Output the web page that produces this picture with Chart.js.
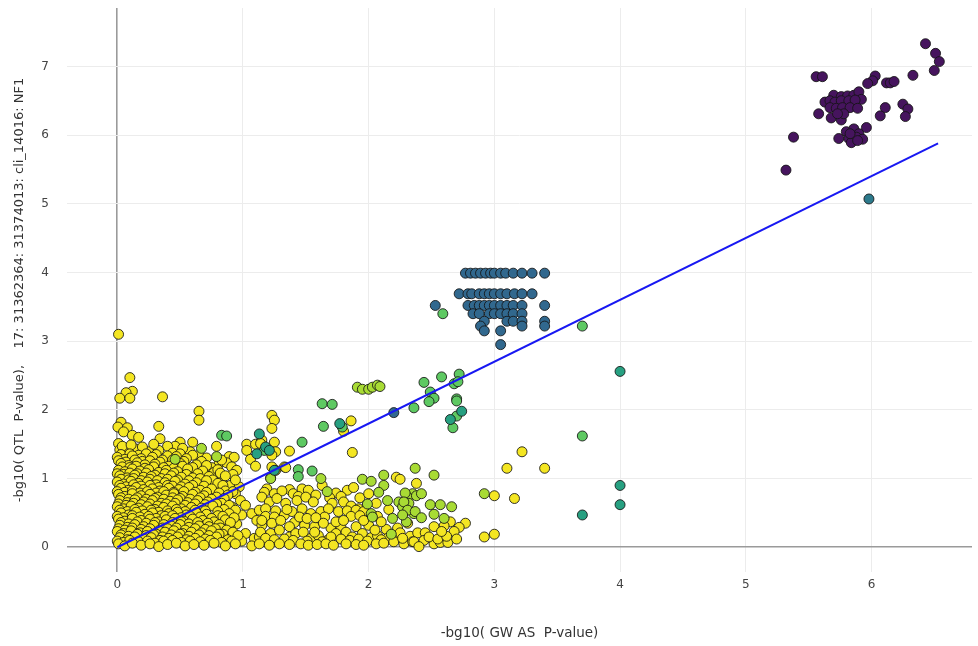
<!DOCTYPE html>
<html>
<head>
<meta charset="utf-8">
<script src="https://cdn.jsdelivr.net/npm/chart.js@4.4.1/dist/chart.umd.min.js"></script>
<style>
  html, body { margin: 0; padding: 0; background: #fff; }
  #wrap { width: 978px; height: 646px; position: relative; }
</style>
</head>
<body>
<div id="wrap"><canvas id="qtlChart"></canvas></div>
<script>
// points, grouped by colour, [gwas, qtl]
const purplePts = [
  [6.43,7.33],[6.51,7.19],[6.54,7.07],[6.50,6.94],[6.33,6.87],[5.56,6.85],[5.61,6.85],[6.03,6.86],[6.01,6.79],[5.97,6.75],
  [6.12,6.76],[6.15,6.76],[6.18,6.78],[5.70,6.58],[5.76,6.56],[5.81,6.57],[5.86,6.58],[5.90,6.63],[5.92,6.52],[5.63,6.48],
  [5.67,6.50],[5.71,6.48],[5.76,6.50],[5.82,6.50],[5.87,6.51],[5.67,6.40],[5.72,6.39],[5.77,6.40],[5.83,6.40],[5.89,6.39],
  [5.58,6.31],[5.68,6.25],[5.76,6.22],[5.78,6.31],[5.73,6.31],[6.11,6.40],[6.07,6.28],[6.25,6.45],[6.29,6.38],[6.27,6.27],
  [5.96,6.11],[5.80,6.05],[5.86,6.09],[5.90,6.02],[5.74,5.95],[5.82,5.95],[5.88,5.97],[5.93,5.94],[5.84,5.89],[5.89,5.92],
  [5.83,6.02],[5.38,5.97],[5.32,5.49]
];
const bluePts = [
  [2.77,3.99],[2.81,3.99],[2.85,3.99],[2.89,3.99],[2.93,3.99],[2.97,3.99],[3.00,3.99],[3.05,3.99],[3.09,3.99],[3.15,3.99],[3.22,3.99],[3.30,3.99],[3.40,3.99],
  [2.72,3.69],[2.79,3.69],[2.82,3.69],[2.88,3.69],[2.92,3.69],[2.96,3.69],[3.00,3.69],[3.05,3.69],[3.10,3.69],[3.16,3.69],[3.22,3.69],[3.30,3.69],
  [2.53,3.52],[2.79,3.52],[2.84,3.52],[2.88,3.52],[2.92,3.52],[2.96,3.52],[3.00,3.52],[3.05,3.52],[3.10,3.52],[3.15,3.52],[3.22,3.52],[3.40,3.52],
  [2.83,3.40],[2.88,3.40],[2.96,3.40],[3.00,3.40],[3.05,3.40],[3.10,3.40],[3.15,3.40],[3.22,3.40],
  [2.92,3.29],[3.10,3.29],[3.15,3.29],[3.22,3.29],[3.40,3.29],
  [2.89,3.22],[3.22,3.22],[3.40,3.22],[2.92,3.15],[3.05,3.15],[3.05,2.95],[2.20,1.96]
];
const tealPts = [[5.98,5.07]];
const tealGreenPts = [
  [4.00,2.56],[4.00,0.90],[4.00,0.62],[3.70,0.47],[1.13,1.65],[1.11,1.36],[1.18,1.46],[1.21,1.41],[1.25,1.12],
  [2.74,1.98],[2.65,1.86],[1.77,1.80]
];
const greenPts = [
  [3.70,3.22],[3.70,1.62],[2.59,3.40],[2.44,2.40],[2.58,2.48],[2.72,2.52],[2.68,2.38],[2.71,2.41],[2.49,2.26],[2.52,2.17],
  [2.48,2.12],[2.36,2.03],[2.70,2.16],[2.70,2.13],[2.70,1.91],[2.67,1.74],[1.63,2.09],[1.71,2.08],[1.64,1.76],[1.79,1.75],
  [1.47,1.53],[1.44,1.13],[1.55,1.11],[1.44,1.03],[0.83,1.63],[0.87,1.62],[1.17,1.41]
];
const limePts = [
  [1.91,2.33],[1.95,2.30],[2.00,2.30],[2.03,2.33],[2.07,2.36],[2.09,2.34],[0.67,1.44],[0.46,1.28],[0.79,1.32],
  [1.22,1.00],[1.62,1.00],[1.67,0.81],[1.95,0.99],[2.02,0.96],[2.12,1.05],[2.12,0.90],[2.35,0.78],[2.31,0.73],
  [1.99,0.63],[2.15,0.68],[2.24,0.66],[2.32,0.64],[2.02,0.49],[2.27,0.59],[2.36,0.49],[2.03,0.44],[2.19,0.42],[2.30,0.37],
  [2.37,1.15],[2.52,1.05],[2.29,0.79],[2.38,0.75],[2.42,0.78],[2.28,0.66],[2.31,0.54],[2.37,0.52],[2.42,0.43],
  [2.49,0.62],[2.57,0.62],[2.52,0.48],[2.66,0.59],[2.60,0.42],[2.92,0.78],[2.08,0.80],[2.27,0.47],[2.18,0.19]
];
const yellowPts = [
  // scattered ones
  [0.01,3.10],[0.10,2.47],[0.12,2.27],[0.07,2.25],[0.02,2.17],[0.10,2.17],[0.36,2.19],[0.65,1.98],[0.65,1.85],[0.03,1.82],
  [0.005,1.75],[0.08,1.74],[0.05,1.68],[0.33,1.76],[0.12,1.63],[0.17,1.60],[0.34,1.58],[0.01,1.51],[0.60,1.53],[0.50,1.53],
  [0.46,1.47],[0.40,1.47],[0.79,1.47],[0.58,1.39],[0.65,1.34],[0.89,1.32],[0.93,1.31],[0.81,1.22],[0.87,1.23],[0.91,1.17],
  [0.95,1.12],[1.03,1.50],[1.10,1.50],[1.03,1.41],[1.06,1.28],[1.10,1.18],[1.15,1.56],[0.61,1.17],[0.61,1.10],[0.70,1.05],
  [0.77,1.05],[0.67,0.88],[0.78,0.88],[0.83,0.98],[0.90,0.90],[0.97,0.88],[0.94,0.78],[0.98,0.68],[0.91,0.59],[1.02,0.61],
  [1.07,0.49],[1.11,0.39],[1.15,0.32],[0.99,0.47],[0.95,0.34],[0.90,0.27],[1.02,0.20],[1.09,0.13],[0.99,0.09],[1.07,0.02],
  [1.13,0.15],[1.23,1.92],[1.25,1.85],[1.23,1.73],[1.14,1.51],[1.25,1.53],[1.26,1.39],[1.23,1.34],[1.37,1.40],[1.33,1.17],
  [1.23,1.17],[1.34,1.16],[1.22,1.01],[1.26,1.12],[1.80,1.69],[1.86,1.84],[1.87,1.38],[2.22,1.02],[2.25,0.99],[2.38,0.93],
  [3.22,1.39],[3.10,1.15],[3.40,1.15],[3.00,0.75],[3.16,0.71],[2.92,0.15],[3.00,0.19],
  // dense block near the origin
  [0.02,1.42],[0.09,1.38],[0.15,1.43],[0.25,1.39],[0.33,1.41],[0.44,1.37],[0.52,1.44],
  [0.04,1.47],[0.11,1.49],[0.20,1.46],[0.29,1.50],
  [0.03,1.35],[0.10,1.36],[0.17,1.34],[0.23,1.36],[0.31,1.35],[0.40,1.33],[0.50,1.36],[0.60,1.34],
  [0.00,1.31],[0.06,1.28],[0.12,1.33],[0.19,1.29],[0.28,1.31],[0.36,1.27],[0.47,1.32],[0.55,1.29],[0.71,1.30],
  [0.01,1.26],[0.07,1.24],[0.14,1.27],[0.20,1.25],[0.26,1.26],[0.34,1.24],[0.44,1.27],[0.53,1.25],[0.67,1.25],[0.83,1.27],
  [0.03,1.22],[0.09,1.19],[0.16,1.23],[0.22,1.20],[0.30,1.21],[0.41,1.18],[0.50,1.22],[0.63,1.20],[0.75,1.16],
  [0.04,1.17],[0.10,1.16],[0.15,1.18],[0.22,1.15],[0.29,1.17],[0.37,1.16],[0.45,1.15],[0.52,1.18],[0.60,1.16],[0.71,1.19],[0.77,1.09],
  [0.01,1.12],[0.06,1.10],[0.12,1.14],[0.18,1.11],[0.25,1.13],[0.33,1.09],[0.39,1.12],[0.48,1.10],[0.56,1.14],[0.68,1.11],[0.80,1.13],
  [0.00,1.07],[0.05,1.06],[0.10,1.08],[0.16,1.07],[0.23,1.08],[0.30,1.05],[0.38,1.07],[0.45,1.08],[0.55,1.06],[0.64,1.07],[0.82,1.08],[0.92,1.06],
  [0.02,1.04],[0.08,1.01],[0.14,1.05],[0.21,1.02],[0.27,1.03],[0.35,1.00],[0.43,1.04],[0.51,1.02],[0.60,1.01],[0.73,1.03],[0.86,1.04],
  [0.03,0.99],[0.09,0.98],[0.13,1.00],[0.19,0.97],[0.26,0.99],[0.32,0.97],[0.40,0.99],[0.48,0.98],[0.57,0.97],[0.66,1.00],[0.76,0.98],[0.94,0.98],
  [0.00,0.95],[0.05,0.92],[0.11,0.96],[0.17,0.93],[0.24,0.95],[0.31,0.91],[0.38,0.94],[0.46,0.96],[0.54,0.92],[0.63,0.94],[0.71,0.97],[0.80,0.93],
  [0.02,0.90],[0.07,0.88],[0.13,0.91],[0.19,0.89],[0.26,0.90],[0.33,0.87],[0.40,0.90],[0.44,0.89],[0.51,0.88],[0.60,0.90],[0.69,0.89],[0.84,0.90],
  [0.03,0.86],[0.09,0.83],[0.15,0.87],[0.21,0.84],[0.28,0.85],[0.34,0.82],[0.41,0.86],[0.49,0.84],[0.57,0.87],[0.66,0.83],[0.75,0.85],[0.86,0.82],
  [0.00,0.81],[0.06,0.80],[0.12,0.82],[0.18,0.79],[0.24,0.81],[0.31,0.79],[0.37,0.81],[0.45,0.80],[0.53,0.81],[0.62,0.80],[0.71,0.80],[0.81,0.79],[0.92,0.81],
  [0.01,0.77],[0.06,0.74],[0.12,0.78],[0.19,0.75],[0.26,0.77],[0.32,0.73],[0.39,0.76],[0.45,0.78],[0.52,0.74],[0.60,0.77],[0.69,0.75],[0.79,0.73],[0.88,0.76],
  [0.03,0.72],[0.09,0.70],[0.16,0.72],[0.23,0.70],[0.30,0.71],[0.37,0.70],[0.44,0.72],[0.50,0.71],[0.58,0.70],[0.66,0.72],[0.75,0.70],[0.85,0.71],
  [0.02,0.68],[0.08,0.65],[0.14,0.69],[0.21,0.66],[0.28,0.68],[0.35,0.64],[0.42,0.67],[0.48,0.69],[0.56,0.65],[0.64,0.68],[0.72,0.66],[0.83,0.64],
  [0.01,0.63],[0.07,0.61],[0.13,0.64],[0.19,0.62],[0.26,0.63],[0.32,0.60],[0.39,0.63],[0.46,0.64],[0.54,0.61],[0.62,0.63],[0.70,0.62],[0.79,0.63],[0.89,0.61],
  [0.00,0.59],[0.05,0.56],[0.11,0.60],[0.17,0.57],[0.24,0.59],[0.30,0.55],[0.37,0.58],[0.44,0.60],[0.51,0.56],[0.59,0.58],[0.67,0.57],[0.76,0.60],[0.85,0.55],
  [0.02,0.54],[0.08,0.52],[0.14,0.55],[0.20,0.53],[0.27,0.54],[0.33,0.51],[0.40,0.53],[0.47,0.55],[0.54,0.52],[0.62,0.54],[0.70,0.53],[0.80,0.52],[0.94,0.54],
  [0.03,0.50],[0.09,0.47],[0.15,0.51],[0.22,0.48],[0.28,0.50],[0.35,0.46],[0.41,0.49],[0.48,0.51],[0.55,0.47],[0.63,0.50],[0.71,0.48],[0.80,0.46],[0.89,0.49],
  [0.00,0.45],[0.05,0.43],[0.12,0.46],[0.18,0.44],[0.25,0.45],[0.31,0.42],[0.38,0.45],[0.44,0.46],[0.51,0.43],[0.58,0.45],[0.66,0.44],[0.75,0.42],[0.84,0.45],[0.93,0.43],
  [0.01,0.41],[0.06,0.38],[0.12,0.42],[0.19,0.39],[0.26,0.41],[0.33,0.37],[0.39,0.40],[0.46,0.42],[0.53,0.38],[0.60,0.41],[0.68,0.39],[0.77,0.37],[0.86,0.40],
  [0.03,0.36],[0.09,0.34],[0.16,0.37],[0.23,0.35],[0.30,0.36],[0.37,0.33],[0.44,0.36],[0.51,0.37],[0.57,0.34],[0.64,0.36],[0.72,0.35],[0.81,0.33],[0.90,0.36],
  [0.02,0.32],[0.08,0.29],[0.14,0.33],[0.21,0.30],[0.29,0.32],[0.36,0.28],[0.43,0.31],[0.50,0.33],[0.57,0.29],[0.65,0.31],[0.73,0.30],[0.82,0.28],
  [0.01,0.27],[0.06,0.25],[0.12,0.28],[0.19,0.26],[0.26,0.27],[0.33,0.24],[0.40,0.27],[0.47,0.28],[0.54,0.25],[0.62,0.27],[0.70,0.26],[0.78,0.27],[0.87,0.25],
  [0.00,0.23],[0.05,0.20],[0.11,0.24],[0.18,0.21],[0.24,0.23],[0.31,0.19],[0.38,0.22],[0.45,0.24],[0.52,0.20],[0.59,0.22],[0.67,0.21],[0.75,0.24],[0.84,0.19],[0.92,0.22],
  [0.03,0.18],[0.09,0.16],[0.16,0.19],[0.23,0.17],[0.29,0.18],[0.36,0.15],[0.43,0.18],[0.50,0.19],[0.57,0.16],[0.65,0.18],[0.73,0.17],[0.81,0.19],[0.96,0.17],
  [0.02,0.14],[0.08,0.11],[0.14,0.15],[0.21,0.12],[0.27,0.14],[0.34,0.10],[0.41,0.13],[0.48,0.15],[0.55,0.11],[0.62,0.13],[0.70,0.12],[0.79,0.15],[0.88,0.11],
  [0.00,0.09],[0.05,0.07],[0.10,0.10],[0.17,0.08],[0.24,0.09],[0.30,0.06],[0.37,0.09],[0.44,0.10],[0.51,0.07],[0.58,0.09],[0.66,0.08],[0.74,0.10],[0.83,0.07],[0.91,0.09],
  [0.01,0.05],[0.06,0.02],[0.12,0.06],[0.19,0.03],[0.26,0.05],[0.33,0.01],[0.40,0.04],[0.47,0.06],[0.54,0.02],[0.61,0.04],[0.69,0.03],[0.77,0.06],[0.86,0.02],[0.94,0.05],
  // band from 1.1 to 2.8
  [1.19,0.85],[1.37,0.84],[1.40,0.78],[1.47,0.85],[1.52,0.83],[1.63,0.90],[1.74,0.79],[1.83,0.83],[1.88,0.87],
  [1.17,0.80],[1.25,0.78],[1.31,0.82],[1.44,0.74],[1.58,0.76],[1.69,0.72],[1.78,0.74],[1.93,0.72],[2.00,0.78],
  [1.15,0.73],[1.21,0.66],[1.27,0.71],[1.34,0.64],[1.43,0.68],[1.50,0.73],[1.56,0.66],[1.71,0.64],[1.80,0.66],[1.86,0.60],[1.92,0.56],[2.06,0.64],
  [1.13,0.54],[1.18,0.56],[1.26,0.53],[1.33,0.47],[1.39,0.52],[1.47,0.56],[1.54,0.49],[1.62,0.52],[1.68,0.56],[1.76,0.52],[1.83,0.53],[1.90,0.54],[1.96,0.52],[2.16,0.55],
  [1.18,0.45],[1.25,0.44],[1.35,0.55],[1.41,0.36],[1.49,0.32],[1.57,0.30],[1.65,0.44],[1.70,0.28],[1.78,0.29],[1.86,0.45],[1.93,0.46],[2.00,0.32],[2.07,0.45],[2.14,0.26],[2.23,0.28],
  [1.15,0.39],[1.23,0.35],[1.30,0.39],[1.37,0.30],[1.45,0.44],[1.51,0.42],[1.58,0.43],[1.64,0.35],[1.74,0.37],[1.80,0.39],[1.90,0.30],[1.96,0.39],[2.10,0.37],
  [1.14,0.22],[1.22,0.20],[1.29,0.25],[1.37,0.15],[1.42,0.20],[1.48,0.22],[1.54,0.13],[1.60,0.17],[1.67,0.10],[1.74,0.20],[1.82,0.22],[1.87,0.15],[1.95,0.20],[2.02,0.14],[2.07,0.17],[2.15,0.13],[2.22,0.15],[2.31,0.10],
  [1.18,0.13],[1.25,0.11],[1.33,0.12],[1.40,0.10],[1.51,0.09],[1.57,0.22],[1.63,0.08],[1.70,0.15],[1.78,0.12],[1.85,0.10],[1.92,0.12],[1.99,0.09],[2.05,0.25],[2.10,0.11],[2.25,0.21],[2.33,0.16],
  [1.13,0.05],[1.21,0.03],[1.29,0.05],[1.37,0.04],[1.46,0.05],[1.52,0.03],[1.59,0.04],[1.66,0.05],[1.72,0.03],[1.82,0.05],[1.90,0.04],[1.96,0.03],[2.06,0.05],[2.12,0.06],[2.20,0.08],[2.28,0.05],[2.35,0.08],
  [2.65,0.37],[2.77,0.35],[2.72,0.29],[2.68,0.23],[2.60,0.31],[2.39,0.21],[2.45,0.21],[2.27,0.13],[2.36,0.08],[2.44,0.10],[2.52,0.05],[2.57,0.07],[2.63,0.07],[2.40,0.01],[2.31,0.35],
  [2.48,0.15],[2.55,0.12],[2.62,0.16],[2.70,0.12],[2.52,0.30],[2.58,0.23]
];
// fitted line ends
const fitX = [0, 6.53];
const fitY = [0, 5.88];

const xTicks = [0, 1, 2, 3, 4, 5, 6];
const yTicks = [0, 1, 2, 3, 4, 5, 6, 7];

const toXY = arr => arr.map(p => ({ x: p[0], y: p[1] }));

function dots(pts, color) {
    return {
        type: 'scatter',
        data: toXY(pts),
        backgroundColor: color,
        borderColor: 'rgba(20,20,20,0.85)',
        borderWidth: 1,
        pointRadius: 5
    };
}

const fontFam = "'DejaVu Sans', Verdana, sans-serif";

// the zero lines are darker than the rest of the grid
const gridColor = c => c.tick && c.tick.value === 0 ? '#9a9a9a' : '#ececec';
const gridWidth = c => c.tick && c.tick.value === 0 ? 1.6 : 1;

new Chart(document.getElementById('qtlChart').getContext('2d'), {
    type: 'scatter',
    data: {
        datasets: [
            { // line first so it sits on top
                type: 'line',
                data: fitX.map((x, i) => ({ x: x, y: fitY[i] })),
                borderColor: '#1818f2',
                borderWidth: 2,
                pointRadius: 0,
                fill: false
            },
            dots(purplePts, '#46145e'),
            dots(bluePts, '#31688e'),
            dots(tealPts, '#2c7a8c'),
            dots(tealGreenPts, '#27a081'),
            dots(greenPts, '#5ec962'),
            dots(limePts, '#a8db34'),
            dots(yellowPts, '#f4e622')
        ]
    },
    options: {
        responsive: true,
        maintainAspectRatio: false,
        animation: false,
        layout: { padding: { top: 8, right: 0, left: 0, bottom: 0 } },
        plugins: { legend: { display: false }, tooltip: { enabled: false } },
        scales: {
            x: {
                type: 'linear',
                min: -0.4,
                max: 6.80,
                afterBuildTicks: s => { s.ticks = xTicks.map(v => ({ value: v })); },
                afterFit: s => { s.height = 74; s.paddingLeft = 0; s.paddingRight = 0; },
                border: { display: false },
                grid: { drawTicks: false, color: gridColor, lineWidth: gridWidth },
                ticks: { padding: 6, color: '#444', font: { family: fontFam, size: 12 } },
                title: {
                    display: true,
                    text: '-bg10( GW AS  P-value)',
                    color: '#333',
                    padding: { top: 0, bottom: 4 },
                    font: { family: fontFam, size: 13.5 }
                }
            },
            y: {
                type: 'linear',
                min: -0.36,
                max: 7.85,
                afterBuildTicks: s => { s.ticks = yTicks.map(v => ({ value: v })); },
                afterFit: s => { s.width = 67; s.paddingTop = 0; s.paddingBottom = 0; },
                border: { display: false },
                grid: { drawTicks: false, color: gridColor, lineWidth: gridWidth },
                ticks: { padding: 18, color: '#444', font: { family: fontFam, size: 12 } },
                title: {
                    display: true,
                    text: '-bg10( QTL  P-value),    17: 31362364: 31374013: cli_14016: NF1',
                    color: '#333',
                    padding: { top: 12, bottom: 0 },
                    font: { family: fontFam, size: 13 }
                }
            }
        }
    }
});
</script>
</body>
</html>
